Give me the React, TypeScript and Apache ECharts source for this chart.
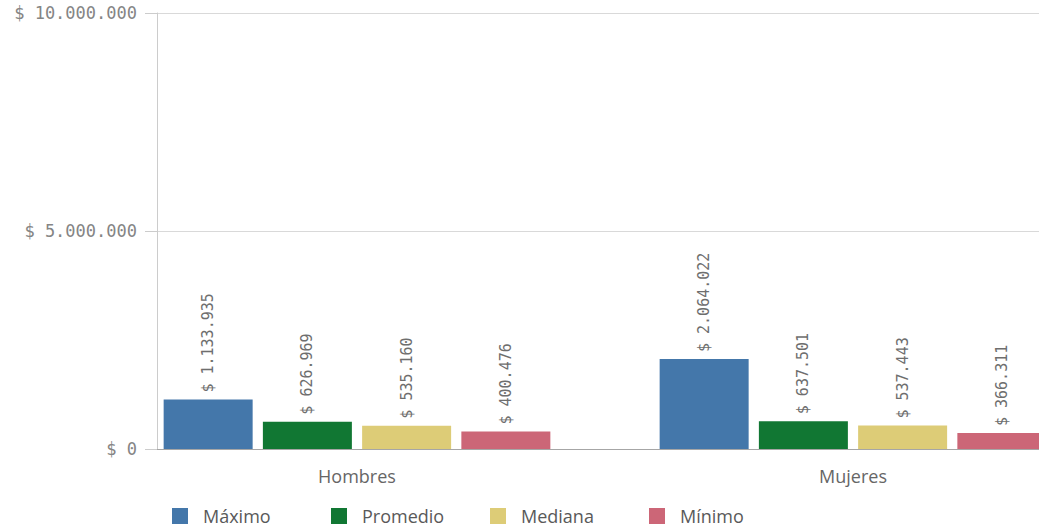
import React, { useEffect, useRef } from "react";
import * as echarts from "echarts";

const categories = ["Hombres", "Mujeres"];
const seriesNames = ["Máximo", "Promedio", "Mediana", "Mínimo"];
const maximo = [1133935, 2064022];
const promedio = [626969, 637501];
const mediana = [535160, 537443];
const minimo = [400476, 366311];
const yTicks = [0, 5000000, 10000000];
const colors = ["#4477aa", "#117733", "#ddcc77", "#cc6677"];

const fmt = (n: number) =>
  "$ " + Math.round(n).toString().replace(/\B(?=(\d{3})+(?!\d))/g, ".");

export default function App() {
  const ref = useRef<HTMLDivElement>(null);
  useEffect(() => {
    if (!ref.current) return;
    const chart = echarts.init(ref.current, null, { renderer: "svg" });
    const values = [maximo, promedio, mediana, minimo];
    const mono = "DejaVu Sans Mono";
    chart.setOption({
      animation: false,
      backgroundColor: "#ffffff",
      grid: [
        { left: 157, right: 0, top: 13, bottom: 79, containLabel: false, outerBoundsMode: "none" },
        { left: 109, width: 992, top: 13, bottom: 79, containLabel: false, outerBoundsMode: "none" },
      ],
      xAxis: [
        {
          gridIndex: 0,
          type: "category",
          data: [""],
          axisLine: { show: true, lineStyle: { color: "#a6a6a6", width: 1 } },
          axisTick: { show: false },
          axisLabel: { show: false },
          splitLine: { show: false },
        },
        {
          gridIndex: 1,
          type: "category",
          data: categories,
          axisLine: { show: false },
          axisTick: { show: false },
          axisLabel: {
            show: true,
            color: "#666666",
            fontFamily: "Open Sans",
            fontSize: 18,
            margin: 18,
          },
        },
      ],
      yAxis: [
        {
          gridIndex: 0,
          type: "value",
          min: yTicks[0],
          max: yTicks[yTicks.length - 1],
          interval: yTicks[1] - yTicks[0],
          axisLine: { show: true, lineStyle: { color: "#cccccc", width: 1 } },
          axisTick: {
            show: true,
            length: 12,
            lineStyle: { color: "#cccccc", width: 1 },
          },
          axisLabel: {
            color: "#858585",
            fontFamily: mono,
            fontSize: 17,
            margin: 20,
            formatter: (v: number) => fmt(v),
          },
          splitLine: { show: true, lineStyle: { color: "#d9d9d9", width: 1 } },
        },
        {
          gridIndex: 1,
          type: "value",
          min: yTicks[0],
          max: yTicks[yTicks.length - 1],
          show: false,
          splitLine: { show: false },
        },
      ],
      legend: seriesNames.map((name, i) => ({
        left: 167 + i * 159,
        top: 502,
        itemWidth: 16,
        itemHeight: 16,
        icon: "rect",
        selectedMode: false,
        data: [name],
        textStyle: {
          color: "#595959",
          fontFamily: "Open Sans",
          fontSize: 18,
          lineHeight: 18,
          padding: [0, 0, 0, 10],
        },
      })),
      series: seriesNames.map((name, i) => ({
        name,
        type: "bar",
        xAxisIndex: 1,
        yAxisIndex: 1,
        data: values[i],
        barWidth: 89,
        barGap: "11.5%",
        itemStyle: { color: colors[i] },
        label: {
          show: true,
          position: "top",
          rotate: 90,
          align: "left",
          verticalAlign: "middle",
          distance: 7,
          color: "#6e6e6e",
          fontFamily: mono,
          fontSize: 15,
          formatter: (p: any) => fmt(p.value),
        },
      })),
    });
    return () => chart.dispose();
  }, []);
  return (
    <div
      ref={ref}
      style={{ position: "absolute", left: 0, top: 0, width: 1039, height: 528 }}
    />
  );
}
